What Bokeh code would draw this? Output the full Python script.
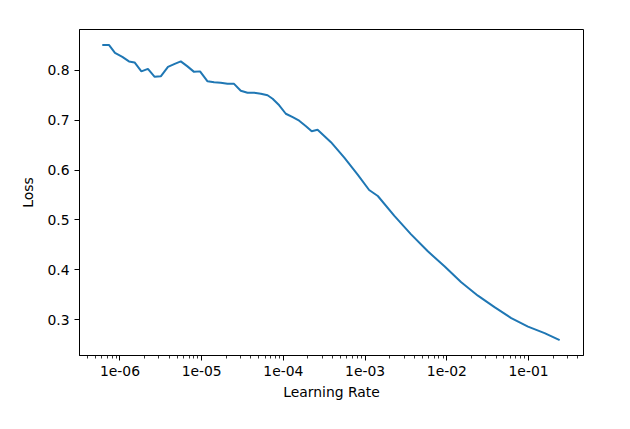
from bokeh.plotting import figure
from bokeh.models import Range1d, FixedTicker, CustomJSTickFormatter
from bokeh.embed import file_html
from bokeh.resources import INLINE

# Data
learning_rate = [6.08e-7, 7.33e-7, 8.69e-7, 1.07e-6, 1.29e-6, 1.51e-6, 1.83e-6, 2.20e-6,
                 2.66e-6, 3.16e-6, 3.87e-6, 4.68e-6, 5.55e-6, 6.70e-6, 8.07e-6, 9.55e-6,
                 1.18e-5, 1.42e-5, 1.71e-5, 2.07e-5, 2.49e-5, 3.01e-5, 3.64e-5, 4.39e-5,
                 5.30e-5, 6.40e-5, 7.38e-5, 8.89e-5, 1.07e-4, 1.30e-4, 1.56e-4, 1.89e-4,
                 2.22e-4, 2.62e-4, 3.82e-4, 5.56e-4, 8.11e-4, 1.12e-3, 1.43e-3, 2.28e-3,
                 3.65e-3, 5.85e-3, 9.35e-3, 1.50e-2, 2.40e-2, 3.83e-2, 6.14e-2, 9.84e-2,
                 0.157, 0.240]
loss = [0.851, 0.851, 0.835, 0.827, 0.818, 0.816, 0.798, 0.803,
        0.787, 0.788, 0.807, 0.813, 0.818, 0.808, 0.797, 0.798,
        0.778, 0.776, 0.775, 0.773, 0.773, 0.759, 0.755, 0.755,
        0.753, 0.750, 0.743, 0.730, 0.713, 0.706, 0.699, 0.688,
        0.678, 0.681, 0.656, 0.625, 0.591, 0.560, 0.548, 0.508,
        0.471, 0.437, 0.407, 0.375, 0.348, 0.325, 0.303, 0.286,
        0.273, 0.259]

x_ticks = [1e-6, 1e-5, 1e-4, 1e-3, 1e-2, 1e-1]
y_ticks = [0.3, 0.4, 0.5, 0.6, 0.7, 0.8]
x_label = "Learning Rate"
y_label = "Loss"

FONT = "DejaVu Sans"

p = figure(width=622, height=420, x_axis_type="log",
           x_range=Range1d(3.2e-7, 0.47), y_range=Range1d(0.228, 0.882),
           output_backend="svg", toolbar_location=None,
           min_border_left=79, min_border_right=39, min_border_top=29, min_border_bottom=65)
p.background_fill_color = "white"
p.border_fill_color = "white"
p.outline_line_color = "black"
p.outline_line_width = 1
p.grid.visible = False

p.line(learning_rate, loss, line_color="#1f77b4", line_width=2)

minor = []
for e in range(-7, 0):
    for m in range(2, 10):
        minor.append(m * 10.0 ** e)

p.xaxis.ticker = FixedTicker(ticks=x_ticks, minor_ticks=minor)
p.xaxis.formatter = CustomJSTickFormatter(code="""
const s = tick.toExponential(0);
const parts = s.split('e');
let ex = parseInt(parts[1]);
const sign = ex < 0 ? '-' : '+';
ex = Math.abs(ex);
return parts[0] + 'e' + sign + (ex < 10 ? '0' + ex : '' + ex);
""")
p.yaxis.ticker = FixedTicker(ticks=y_ticks, minor_ticks=[])

for ax in (p.xaxis[0], p.yaxis[0]):
    ax.axis_line_color = "black"
    ax.axis_line_width = 1
    ax.major_tick_line_color = "black"
    ax.major_tick_line_width = 1
    ax.major_tick_out = 5
    ax.major_tick_in = 0
    ax.minor_tick_line_color = "black"
    ax.minor_tick_line_width = 0.8
    ax.minor_tick_out = 3
    ax.minor_tick_in = 0
    ax.major_label_text_font = FONT
    ax.major_label_text_font_size = "13.9px"
    ax.major_label_text_color = "black"
    ax.major_label_standoff = 5
    ax.axis_label_text_font = FONT
    ax.axis_label_text_font_size = "13.9px"
    ax.axis_label_text_font_style = "normal"
    ax.axis_label_text_color = "black"

p.xaxis.axis_label = x_label
p.yaxis.axis_label = y_label
p.xaxis.axis_label_standoff = 5
p.yaxis.axis_label_standoff = 8

open("out.html", "w").write(file_html(p, INLINE))
